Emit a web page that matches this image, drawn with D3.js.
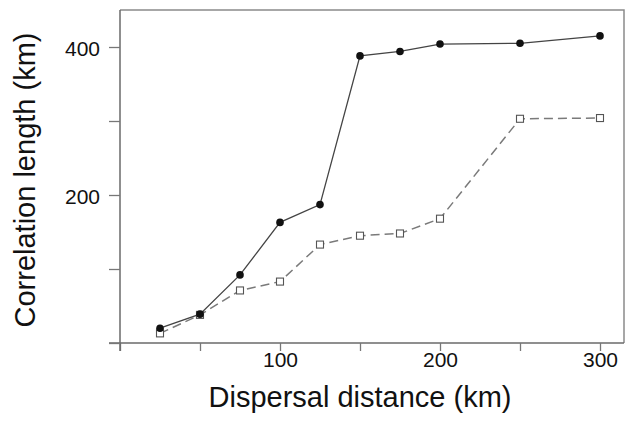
<!DOCTYPE html>
<html>
<head>
<meta charset="utf-8">
<script src="https://cdn.jsdelivr.net/npm/d3@7/dist/d3.min.js"></script>
<style>
  html, body { margin: 0; padding: 0; background: #fff; }
  svg { display: block; }
  text { font-family: "Liberation Sans", Arial, sans-serif; fill: #111; }
</style>
</head>
<body>
<svg id="chart" width="625" height="437"></svg>
<script>
const distances = [25, 50, 75, 100, 125, 150, 175, 200, 250, 300];
const solidSeries = [20, 39, 92, 163, 187, 388, 394, 404, 405, 415];
const dashedSeries = [13, 38, 71, 83, 133, 145, 148, 168, 303, 304];
const xTickValues = [0, 50, 100, 150, 200, 250, 300];
const xTickLabels = ["", "", "100", "", "200", "", "300"];
const yTickValues = [0, 100, 200, 300, 400];
const yTickLabels = ["", "", "200", "", "400"];

const svg = d3.select("#chart");
const mLeft = 120, mRight = 624, mTop = 10, mBottom = 343;

const x = d3.scaleLinear().domain([0, 315]).range([mLeft, mRight]);
const y = d3.scaleLinear().domain([0, 450]).range([mBottom, mTop]);

// frame (top and right)
svg.append("path")
  .attr("d", `M${mLeft},${mTop}H${mRight}V${mBottom}`)
  .attr("fill", "none").attr("stroke", "#8a8a8a").attr("stroke-width", 1.5);

// x axis
const xAxis = d3.axisBottom(x).tickValues(xTickValues)
  .tickFormat((d, i) => xTickLabels[i]).tickSize(8).tickPadding(1).tickSizeOuter(0);
const gx = svg.append("g").attr("transform", `translate(0,${mBottom})`).call(xAxis);
gx.select(".domain").attr("stroke", "#6a6a6a").attr("stroke-width", 1.5)
  .attr("d", `M${mLeft - 11},0H${mRight}`);
gx.selectAll(".tick line").attr("stroke", "#777").attr("stroke-width", 1.3);
gx.selectAll(".tick text").attr("font-size", 21).attr("fill", "#111")
  .attr("font-family", "Liberation Sans, Arial, sans-serif");

// y axis
const yAxis = d3.axisLeft(y).tickValues(yTickValues)
  .tickFormat((d, i) => yTickLabels[i]).tickSize(11).tickPadding(9).tickSizeOuter(0);
const gy = svg.append("g").attr("transform", `translate(${mLeft},0)`).call(yAxis);
gy.select(".domain").attr("stroke", "#6a6a6a").attr("stroke-width", 1.5)
  .attr("d", `M0,${mTop}V${mBottom + 8}`);
gy.selectAll(".tick line").attr("stroke", "#777").attr("stroke-width", 1.3);
gy.selectAll(".tick text").attr("font-size", 21).attr("fill", "#111")
  .attr("font-family", "Liberation Sans, Arial, sans-serif").attr("dy", "0.42em");

// axis titles
svg.append("text").attr("x", 360).attr("y", 407).attr("text-anchor", "middle")
  .attr("font-size", 29).text("Dispersal distance (km)");
svg.append("text").attr("transform", `translate(35,180) rotate(-90)`)
  .attr("text-anchor", "middle").attr("font-size", 29).text("Correlation length (km)");

const line = d3.line().x((d, i) => x(distances[i])).y(d => y(d));

// dashed series
svg.append("path").datum(dashedSeries).attr("d", line)
  .attr("fill", "none").attr("stroke", "#7a7a7a").attr("stroke-width", 1.5)
  .attr("stroke-dasharray", "9,5");
svg.selectAll(".sq").data(dashedSeries).enter().append("rect")
  .attr("x", (d, i) => x(distances[i]) - 3.5).attr("y", d => y(d) - 3.5)
  .attr("width", 7).attr("height", 7)
  .attr("fill", "#fff").attr("stroke", "#555").attr("stroke-width", 1.1);

// solid series
svg.append("path").datum(solidSeries).attr("d", line)
  .attr("fill", "none").attr("stroke", "#444").attr("stroke-width", 1.3);
svg.selectAll(".dot").data(solidSeries).enter().append("circle")
  .attr("cx", (d, i) => x(distances[i])).attr("cy", d => y(d)).attr("r", 3.8)
  .attr("fill", "#111");
</script>
</body>
</html>
